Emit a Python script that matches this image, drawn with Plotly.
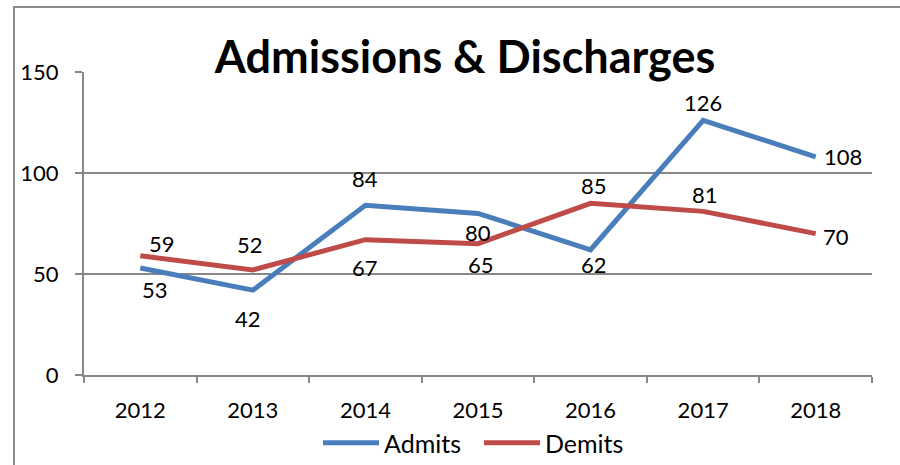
import plotly.graph_objects as go

years = ["2012", "2013", "2014", "2015", "2016", "2017", "2018"]
admits = [53, 42, 84, 80, 62, 126, 108]
demits = [59, 52, 67, 65, 85, 81, 70]
y_ticks = [0, 50, 100, 150]

# label offsets in pixels (style only)
admits_shift = [(15, -22), (-5, -28), (0, 27), (0, -19), (3, -15), (0, 18), (27, 0)]
demits_shift = [(22, 12), (-3, 25), (0, -28), (3, -21), (3, 18), (2, 17), (20, -3)]

FONT = "Lato, Calibri, Carlito, sans-serif"
BLUE = "#4A7EBB"
RED = "#BE4B48"
GRID = "#888888"

fig = go.Figure()
fig.add_trace(go.Scatter(x=years, y=admits, name="Admits", mode="lines",
                         line=dict(color=BLUE, width=5)))
fig.add_trace(go.Scatter(x=years, y=demits, name="Demits", mode="lines",
                         line=dict(color=RED, width=5)))

for vals, shifts in ((admits, admits_shift), (demits, demits_shift)):
    for i, (v, (dx, dy)) in enumerate(zip(vals, shifts)):
        fig.add_annotation(x=i, y=v, text=str(v), showarrow=False,
                           xshift=dx, yshift=dy,
                           font=dict(size=22, family=FONT, color="#000000"))

pw, ph = 788, 303
fig.add_shape(type="rect", xref="paper", yref="paper",
              x0=(14 - 84) / pw, x1=1.2, y0=-0.6, y1=(375 - 7) / ph,
              line=dict(color="#8c8c8c", width=2), fillcolor="rgba(0,0,0,0)", layer="below")

fig.update_layout(
    width=900, height=465,
    margin=dict(l=84, r=28, t=72, b=90, autoexpand=False),
    paper_bgcolor="white", plot_bgcolor="white",
    font=dict(family=FONT, size=22, color="#000000"),
    title=dict(text="<b>Admissions & Discharges</b>", x=465 / 900, xanchor="center",
               y=1 - 57 / 465, yanchor="middle",
               font=dict(size=45, family=FONT, color="#000000")),
    showlegend=True,
    legend=dict(orientation="h", x=318 / 900, xanchor="left", xref="container",
                y=1 - 443 / 465, yanchor="middle", yref="container",
                font=dict(size=25, family=FONT), itemwidth=56,
                entrywidth=90, entrywidthmode="pixels",
                bgcolor="rgba(0,0,0,0)"),
    xaxis=dict(type="category", range=[-0.5, 6.5], showgrid=False,
               showline=True, linecolor=GRID, linewidth=2,
               ticks="outside", tickson="boundaries", ticklen=6, tickcolor=GRID, tickwidth=2,
               ticklabelstandoff=15, tickfont=dict(size=22, family=FONT)),
    yaxis=dict(range=[0, 150], tickvals=y_ticks, showgrid=True, gridcolor=GRID, gridwidth=2,
               showline=True, linecolor=GRID, linewidth=2, zeroline=False,
               ticks="outside", ticklen=7, tickcolor=GRID, tickwidth=2,
               ticklabelstandoff=12, tickfont=dict(size=22, family=FONT)),
)

fig.write_html("out.html", config={"displayModeBar": False},
               post_script="document.body.style.margin='0px';")
